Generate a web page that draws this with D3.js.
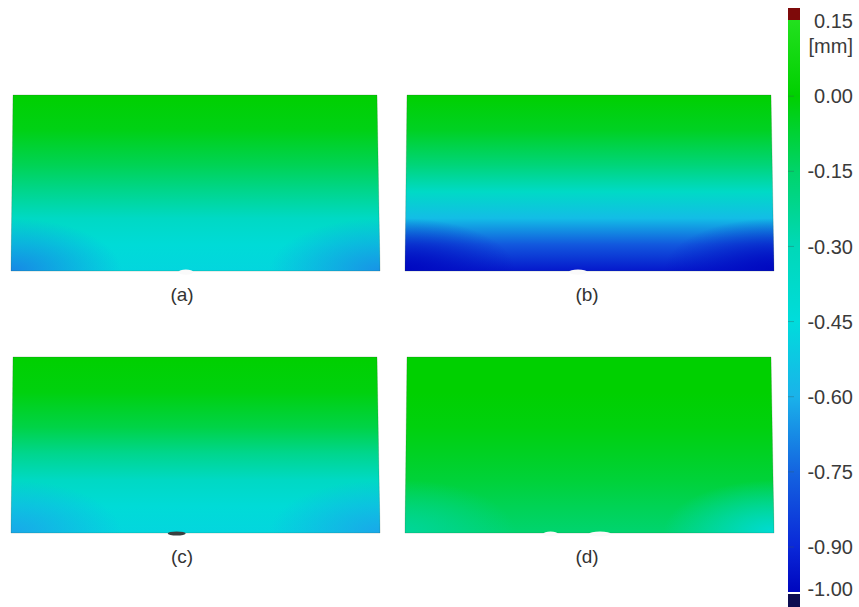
<!DOCTYPE html>
<html><head><meta charset="utf-8">
<script src="https://cdn.jsdelivr.net/npm/d3@7"></script>
<style>body{margin:0;background:#fff}svg{display:block}</style>
</head><body><svg id="chart" width="859" height="607"></svg>
<script>
// ---------------- data ----------------
const panelIds = ["a", "b", "c", "d"];
const panelLabels = ["(a)", "(b)", "(c)", "(d)"];
// relative height position of profile samples (0 = top edge, 1 = bottom edge)
const profilePos = [0, 0.2, 0.4, 0.55, 0.7, 0.85, 1];
// deviation [mm] along the height, read at mid-width
const devA = [0.00, -0.03, -0.12, -0.22, -0.35, -0.43, -0.47];
const devB = [0.00, -0.05, -0.18, -0.36, -0.56, -0.78, -0.95];
const devC = [0.00, -0.02, -0.10, -0.22, -0.35, -0.43, -0.47];
const devD = [0.00, 0.00, -0.02, -0.05, -0.08, -0.12, -0.16];
// deviation [mm] at bottom-left / bottom-right corners
const cornerBL = [-0.68, -1.00, -0.62, -0.24];
const cornerBR = [-0.66, -1.00, -0.62, -0.42];
// bottom-edge notches: panel index, relative position, relative width
const notchPanel = [0, 1, 3, 3];
const notchPos = [0.475, 0.47, 0.395, 0.53];
const notchWidth = [0.04, 0.05, 0.04, 0.06];
// colour legend
const tickValues = [0.15, 0.00, -0.15, -0.30, -0.45, -0.60, -0.75, -0.90, -1.00];
const tickLabels = ["0.15", "0.00", "-0.15", "-0.30", "-0.45", "-0.60", "-0.75", "-0.90", "-1.00"];
const unitLabel = "[mm]";
// colour map (value -> colour)
const cmapValues = [0.15, 0.00, -0.15, -0.30, -0.45, -0.60, -0.75, -0.90, -1.00];
const cmapColors = ["#22e01e", "#00d000", "#00d46a", "#00d8b8", "#00dcdc", "#1ab2ea", "#1464e0", "#0a28d8", "#0008c0"];

// ---------------- drawing ----------------
const svg = d3.select("#chart");
const defs = svg.append("defs");
const color = d3.scaleLinear().domain(cmapValues).range(cmapColors).interpolate(d3.interpolateRgb).clamp(true);
const profiles = [devA, devB, devC, devD];

const xBand = d3.scaleBand().domain([0, 1]).range([12, 772]).paddingInner(0.071);
const yBand = d3.scaleBand().domain([0, 1]).range([95, 533]).paddingInner(0.328);
const skew = 2;
const font = "'Liberation Sans', Arial, Helvetica, sans-serif";
const labelShift = [-13, -2];

const panels = panelIds.map((id, i) => {
  const col = i % 2, row = Math.floor(i / 2);
  return {id, i, col, label: panelLabels[i], x: xBand(col), y: yBand(row), w: xBand.bandwidth(), h: yBand.bandwidth(),
          prof: profiles[i], bl: cornerBL[i], br: cornerBR[i]};
});

panels.forEach(p => {
  const g = defs.append("linearGradient").attr("id", "grad-" + p.id)
    .attr("x1", 0).attr("y1", 0).attr("x2", 0).attr("y2", 1);
  g.selectAll("stop").data(p.prof).join("stop")
    .attr("offset", (d, k) => profilePos[k])
    .attr("stop-color", d => color(d));
  [["bl", 0, p.bl], ["br", 1, p.br]].forEach(([k, cx, v]) => {
    const r = defs.append("radialGradient").attr("id", "rg-" + k + "-" + p.id)
      .attr("cx", cx).attr("cy", 1).attr("r", 0.3).attr("fx", cx).attr("fy", 1);
    r.append("stop").attr("offset", 0).attr("stop-color", color(v)).attr("stop-opacity", 1);
    r.append("stop").attr("offset", 0.45).attr("stop-color", color(v)).attr("stop-opacity", 0.55);
    r.append("stop").attr("offset", 1).attr("stop-color", color(v)).attr("stop-opacity", 0);
  });
});

const shape = p => {
  const path = d3.path();
  path.moveTo(p.x + 1, p.y);
  path.lineTo(p.x + p.w - 1, p.y);
  path.lineTo(p.x + p.w + skew, p.y + p.h);
  path.lineTo(p.x - skew + 1, p.y + p.h);
  path.closePath();
  return path.toString();
};

const pg = svg.append("g").selectAll("g.panel").data(panels).join("g").attr("class", "panel");
pg.append("path").attr("d", shape).attr("fill", p => `url(#grad-${p.id})`);
pg.append("path").attr("d", shape).attr("fill", p => `url(#rg-bl-${p.id})`);
pg.append("path").attr("d", shape).attr("fill", p => `url(#rg-br-${p.id})`);
pg.append("path").attr("d", shape).attr("fill", "none").attr("stroke", "#2a4a2a").attr("stroke-opacity", 0.25).attr("stroke-width", 0.8);

// notches on the bottom edges
const notches = notchPanel.map((pi, k) => ({p: panels[pi], pos: notchPos[k], w: notchWidth[k]}));
svg.append("g").selectAll("ellipse").data(notches).join("ellipse")
  .attr("cx", d => d.p.x + d.pos * d.p.w)
  .attr("cy", d => d.p.y + d.p.h + 1)
  .attr("rx", d => d.w * d.p.w / 2)
  .attr("ry", 2.6)
  .attr("fill", "#fafafa");
// dark artefact in (c)
svg.append("ellipse").attr("cx", panels[2].x + 0.45 * panels[2].w).attr("cy", panels[2].y + panels[2].h + 0.5)
  .attr("rx", 9).attr("ry", 2).attr("fill", "#3a4040");

// panel labels
svg.append("g").selectAll("text").data(panels).join("text")
  .attr("x", p => p.x + p.w / 2 + labelShift[p.col])
  .attr("y", p => p.y + p.h + 30)
  .attr("text-anchor", "middle")
  .attr("font-family", font).attr("font-size", 19).attr("fill", "#333")
  .text(p => p.label);

// ---------------- colour bar ----------------
const barX = 788, barW = 12;
const yScale = d3.scaleLinear().domain([0.15, -0.90, -1.00]).range([21, 547, 589]);
const cbGrad = defs.append("linearGradient").attr("id", "cbar").attr("gradientUnits", "userSpaceOnUse")
  .attr("x1", 0).attr("x2", 0).attr("y1", yScale(0.15)).attr("y2", yScale(-1.00));
cbGrad.selectAll("stop").data(cmapValues).join("stop")
  .attr("offset", d => (yScale(d) - yScale(0.15)) / (yScale(-1.00) - yScale(0.15)))
  .attr("stop-color", d => color(d));

const cb = svg.append("g");
cb.append("rect").attr("x", barX).attr("y", yScale(0.15) - 1).attr("width", barW)
  .attr("height", yScale(-1.00) - yScale(0.15) + 4).attr("fill", "url(#cbar)");
// out-of-range caps
cb.append("rect").attr("x", barX).attr("y", 8).attr("width", barW).attr("height", yScale(0.15) - 9).attr("fill", "#7e0a0a");
cb.append("rect").attr("x", barX).attr("y", yScale(-1.00) + 5).attr("width", barW).attr("height", 607 - yScale(-1.00) - 5).attr("fill", "#0c0c50");
// faint ticks
cb.selectAll("line").data(tickValues.slice(1, -1)).join("line")
  .attr("x1", barX).attr("x2", barX + 6)
  .attr("y1", d => yScale(d)).attr("y2", d => yScale(d))
  .attr("stroke", "#3a5a5a").attr("stroke-opacity", 0.35);
cb.selectAll("text.tick").data(tickValues).join("text").attr("class", "tick")
  .attr("x", 853).attr("y", d => yScale(d))
  .attr("dy", "0.36em")
  .attr("text-anchor", "end")
  .attr("font-family", font).attr("font-size", 20).attr("fill", "#3a3a3a")
  .text((d, k) => tickLabels[k]);
cb.append("text").attr("x", 853).attr("y", yScale(0.15) + 25).attr("dy", "0.36em")
  .attr("text-anchor", "end").attr("font-family", font).attr("font-size", 20).attr("fill", "#3a3a3a")
  .text(unitLabel);
</script></body></html>
